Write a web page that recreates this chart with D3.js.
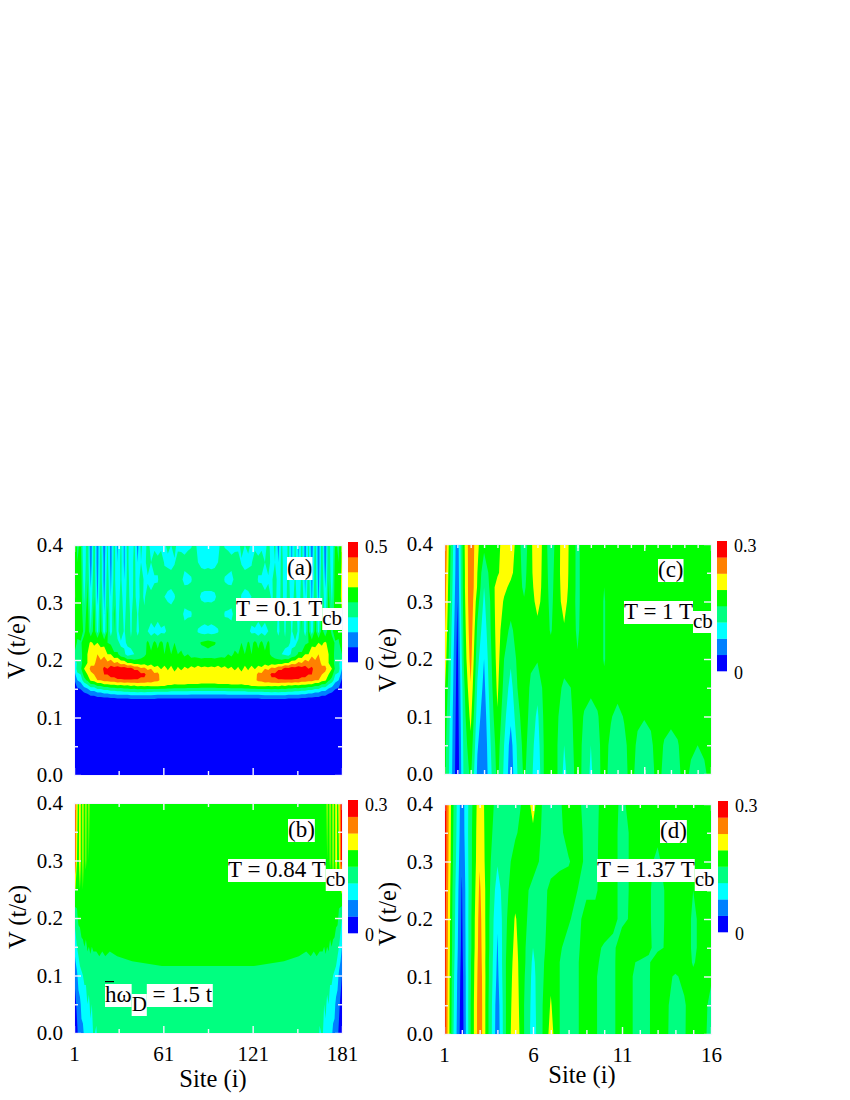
<!DOCTYPE html>
<html>
<head>
<meta charset="utf-8">
<script src="https://cdn.jsdelivr.net/npm/d3@7"></script>
<style>
  body { margin: 0; background: #fff; }
  text { font-family: "Liberation Serif", serif; fill: #000; }
</style>
</head>
<body>
<div id="chart"></div>
<script>
// ---------- Colour steps ----------
// field values are in tenths of a colour step: 8 steps make the full scale of a bar
const bandColors = ['#0000ff', '#0080ff', '#00ffff', '#00ff80', '#00ff00', '#ffff00', '#ff8000', '#ff0000'];
const stepThresholds = [0, 10, 20, 30, 40, 50, 60, 70];

// ---------- Panel (a): left half, sites 1..91, mirrored about site 91 ----------
const aVolts = [0, .125, .135, .145, .155, .165, .175, .185, .195, .21, .23, .25, .28, .31, .34, .37, .40];
const aSiteStep = 2.25;
const aRows = [
  [0,0,0,0,0,0,0,0,0,0,0,0,0,0,0,0,0,0,0,0,0,0,0,0,0,0,0,0,0,0,0,0,0,0,0,0,0,0,0,0,0],
  [0,0,0,0,1,1,1,1,2,2,2,2,2,2,2,2,2,2,2,2,2,2,2,2,2,2,2,2,2,2,2,2,2,2,2,2,2,2,2,2,2],
  [0,2,2,4,5,7,7,9,9,10,10,11,11,12,12,12,12,13,13,13,13,13,13,13,13,12,12,12,12,12,12,12,12,12,12,12,12,12,12,12,12],
  [1,6,7,11,13,18,18,22,22,25,25,27,27,29,29,30,30,31,31,32,31,32,31,31,30,30,30,30,30,29,29,29,29,29,29,28,28,28,28,28,28],
  [4,12,14,22,26,34,34,40,40,44,44,46,46,48,47,49,48,50,49,51,50,51,50,51,51,51,50,50,49,49,48,48,48,48,47,47,47,47,46,46,46],
  [8,20,24,36,42,52,54,60,60,64,64,66,66,68,68,69,69,69,69,69,68,68,66,66,63,62,58,57,56,55,55,56,56,56,56,56,56,56,56,56,56],
  [14,28,30,44,50,58,60,66,66,70,70,74,74,78,78,80,78,80,76,76,72,72,67,68,62,62,57,58,55,55,54,55,55,56,56,57,57,58,58,58,58],
  [20,34,38,50,56,62,62,66,66,72,70,74,74,76,74,76,72,74,68,68,62,63,58,60,53,56,49,56,48,54,46,52,48,52,50,53,51,54,52,53,52],
  [20,32,36,46,50,58,58,64,62,66,62,66,60,62,56,56,50,50,46,46,44,46,42,46,42,44,42,44,42,46,44,46,42,46,44,46,44,46,44,45,44],
  [40,34,36,46,50,54,56,60,56,58,50,50,42,42,34,32,26,28,30,32,36,38,42,42,44,42,44,40,42,40,44,40,42,38,40,36,38,36,36,36,37],
  [50,38,38,46,46,52,48,50,46,46,40,38,32,32,28,28,32,32,36,36,40,36,42,36,42,38,42,38,41,36,40,34,36,30,36,32,37,38,41,42,43],
  [50,44,50,36,48,30,46,26,44,24,42,24,40,26,40,28,40,28,38,26,36,30,30,26,28,25,28,28,32,32,36,35,37,35,37,35,36,29,27,26,27],
  [50,44,48,32,46,26,44,22,42,20,42,22,42,22,40,24,40,26,40,28,38,32,38,34,38,34,38,34,37,35,37,33,34,27,28,29,36,36,37,36,37],
  [54,42,46,28,42,22,40,18,40,18,38,20,38,20,36,22,36,24,34,24,34,28,36,33,37,35,33,30,27,26,29,35,37,36,37,36,37,33,28,27,27],
  [54,40,46,24,40,18,38,16,36,16,36,18,34,20,32,20,34,24,33,24,36,28,28,25,28,29,36,34,36,35,36,33,32,27,27,29,36,35,36,36,36],
  [52,40,44,22,38,14,36,14,36,16,33,16,34,20,33,18,33,22,34,20,30,25,36,30,36,33,36,29,27,26,29,35,36,33,36,35,36,30,27,26,27],
  [52,38,42,20,38,12,36,14,34,14,32,16,33,18,32,18,34,20,32,16,33,24,34,26,27,25,27,28,33,30,33,27,26,26,27,29,33,27,26,25,26]
];

// ---------- Panel (b): left half, mirrored about site 91 ----------
const bVolts = [0, .05, .1, .125, .15, .2, .25, .3, .4];
const bSites = [1,2,3,4,5,6,7,8,9,10,11,12,13,14,16,18,20,22,25,30,40,60,91];
const bCols = [
  [4,6,10,14,20,30,54,76,78],
  [5,8,14,20,26,34,50,66,68],
  [8,12,18,24,30,38,44,50,54],
  [12,16,24,28,34,42,46,48,46],
  [14,18,26,32,36,42,50,54,56],
  [18,22,28,34,38,44,46,46,45],
  [18,24,30,36,38,46,50,52,54],
  [22,26,32,36,40,44,46,46,44],
  [20,26,32,36,38,46,48,51,53],
  [24,30,34,38,41,44,46,46,45],
  [24,28,34,38,40,46,47,50,52],
  [28,32,36,38,42,44,46,46,46],
  [26,30,36,38,40,45,46,48,49],
  [31,33,37,38,41,44,46,46,46],
  [29,33,37,38,41,45,46,46,46],
  [36,37,38,39,42,45,46,46,46],
  [37,37,38,38,41,45,46,46,46],
  [37,37,38,39,42,45,46,46,46],
  [37,37,38,38,41,45,46,46,46],
  [37,37,38,39,42,45,46,46,46],
  [37,37,38,40,43,45,46,46,46],
  [37,37,38,41,43,45,46,46,46],
  [37,37,38,41,43,45,46,46,46]
];

// ---------- Panel (c): columns every 0.375 site ----------
const cVolts = [0, .05, .1, .15, .2, .25, .3, .325, .35, .4];
const cSiteStep = 0.375;
const cCols = [
  [45,46,49,54,60,65,69,70,72,75],
  [25,26,27,29,31,33,36,37,38,40],
  [2,3,4,5,6,8,10,11,12,13],
  [33,34,36,38,42,44,46,47,47,48],
  [42,47,53,59,64,67,69,69,69,69],
  [18,21,25,29,33,38,44,49,50,52],
  [11,12,14,17,20,24,28,30,33,43],
  [28,30,33,36,38,40,41,43,44,47],
  [43,45,49,52,54,55,56,55,48,44],
  [28,30,33,37,40,44,49,52,56,58],
  [14,16,22,26,32,38,44,48,52,56],
  [30,32,36,40,42,44,45,45,46,46],
  [42,44,46,47,47,45,41,38,36,33],
  [33,34,36,38,42,45,46,47,48,48],
  [22,25,28,33,41,47,53,55,56,58],
  [41,41,42,43,44,45,46,46,46,46],
  [44,46,47,47,45,39,37,36,35,33],
  [40,40,41,43,46,46,47,47,47,46],
  [27,30,34,38,44,49,53,54,55,56],
  [36,37,38,40,44,46,46,47,47,47],
  [44,45,46,46,41,38,37,37,37,37],
  [37,37,39,44,46,46,46,46,46,46],
  [28,30,33,44,46,46,47,47,47,47],
  [37,37,39,44,46,46,46,46,46,46],
  [44,45,46,43,39,39,39,40,42,44],
  [36,37,41,45,46,46,46,46,46,46],
  [30,32,36,45,46,47,47,47,47,47],
  [36,37,41,45,46,46,46,46,46,46],
  [44,45,46,47,47,47,47,47,47,47],
  [36,38,42,46,46,46,46,46,46,46],
  [31,33,41,46,46,47,47,47,47,47],
  [36,38,42,46,46,46,46,46,46,46],
  [44,45,46,47,47,47,47,47,47,47],
  [37,39,44,46,46,46,46,46,46,46],
  [33,35,44,47,47,47,47,47,47,47],
  [37,39,44,46,46,46,46,46,46,46],
  [44,45,46,47,47,47,47,47,47,47],
  [38,42,46,46,46,46,46,46,46,46],
  [33,40,46,47,47,47,47,47,47,47],
  [38,42,46,46,46,46,46,46,46,46],
  [44,45,46,46,46,46,46,46,46,46]
];

// ---------- Panel (d): columns every 0.5 site ----------
const dVolts = [0, .05, .1, .125, .15, .2, .25, .3, .35, .4];
const dSiteStep = 0.5;
const dCols = [
  [78,78,78,78,78,78,79,80,80,80],
  [32,33,34,35,36,37,38,40,41,42],
  [3,4,5,6,7,8,9,11,13,14],
  [40,40,39,39,38,38,37,37,37,36],
  [68,68,67,66,65,64,62,59,58,57],
  [40,40,41,41,42,42,43,43,43,43],
  [13,14,17,18,19,21,25,31,36,38],
  [41,41,41,41,40,39,38,37,36,36],
  [59,57,55,54,53,51,46,43,39,36],
  [40,40,41,42,42,43,43,44,43,42],
  [25,26,27,28,30,34,37,44,48,54],
  [39,39,38,38,37,36,37,38,39,40],
  [54,51,48,46,45,44,42,37,34,29],
  [40,40,40,40,41,44,44,38,37,37],
  [36,36,36,36,37,41,45,39,45,51],
  [39,39,39,39,38,37,40,45,44,42],
  [46,46,46,46,46,44,38,37,37,37],
  [41,41,41,42,42,44,38,38,38,38],
  [36,36,36,37,39,45,46,45,44,43],
  [38,38,38,38,38,42,43,43,43,43],
  [46,46,46,46,45,38,37,37,37,38],
  [41,41,41,41,46,41,41,41,41,43],
  [36,36,36,39,46,47,47,47,47,47],
  [39,39,39,39,41,41,41,42,45,46],
  [46,46,46,45,38,37,37,38,42,46],
  [41,41,42,43,41,41,41,44,46,46],
  [36,37,39,44,46,47,47,47,47,47],
  [39,39,42,46,46,46,46,46,46,46],
  [46,45,42,39,38,38,40,44,46,46],
  [43,43,44,44,43,43,44,46,46,46],
  [37,38,41,44,46,46,46,46,46,46]
];

// ---------- Axis and label lists ----------
const voltMajor = [0, .1, .2, .3, .4];
const voltMinor = [.05, .15, .25, .35];
const voltLabels = ['0.0', '0.1', '0.2', '0.3', '0.4'];
const site181Major = [1, 61, 121, 181];
const site181Minor = [31, 91, 151];
const site16Major = [1, 6, 11, 16];
const site16Minor = [2,3,4,5,7,8,9,10,12,13,14,15];
const site16MinorC = [1.75,2.5,3.25,4,4.75,5.5,6.25,7,7.75,8.5,9.25,10,10.75,11.5,12.25,13,13.75,14.5,15.25];

const svg = d3.select('#chart').append('svg').attr('width', 850).attr('height', 1100);

// flatten column lists into the row-major grid d3.contours wants
function flattenCols(cols) {
  const out = [];
  cols[0].forEach((_, j) => cols.forEach(c => out.push(c[j])));
  return out;
}

function drawField(values, sites, volts, x, y) {
  const nx = sites.length, ny = volts.length;
  // grid index -> data -> pixel; d3.contours puts samples at i + 0.5
  const ix = d3.scaleLinear().domain(sites.map((_, i) => i + .5)).range(sites.map(s => x(s))).clamp(true);
  const iy = d3.scaleLinear().domain(volts.map((_, i) => i + .5)).range(volts.map(v => y(v))).clamp(true);
  const path = d3.geoPath(d3.geoTransform({
    point(px, py) { this.stream.point(ix(px), iy(py)); }
  }));
  const layers = d3.contours().size([nx, ny]).thresholds(stepThresholds)(values);
  svg.append('g').selectAll('path').data(layers).join('path')
    .attr('d', path)
    .attr('fill', (d, i) => bandColors[i]);
}

function drawAxes(x, y, xMajor, xMinor, opts) {
  const [x0, x1] = x.range(), [y0, y1] = y.range();
  const tickCol = '#f6f4ff';
  const sides = [
    [d3.axisLeft, y, voltMajor, voltMinor, x0, null],
    [d3.axisRight, y, voltMajor, voltMinor, x1, null],
    [d3.axisBottom, x, xMajor, xMinor, null, y0],
    [d3.axisTop, x, xMajor, xMinor, null, y1]
  ];
  sides.forEach(([ax, sc, maj, min, tx, ty]) => {
    [[maj, 7], [min, 4]].forEach(([vals, len]) => {
      const g = svg.append('g')
        .attr('transform', `translate(${tx === null ? 0 : tx},${ty === null ? 0 : ty})`)
        .call(ax(sc).tickValues(vals).tickSizeInner(-len).tickSizeOuter(0).tickFormat(''));
      g.selectAll('line').attr('stroke', tickCol).attr('stroke-width', 1.4);
      g.select('.domain').attr('stroke', tickCol).attr('stroke-width', 1);
    });
  });
  // labels
  svg.append('g').attr('transform', `translate(${x0},0)`)
    .call(d3.axisLeft(y).tickValues(voltMajor).tickSize(0).tickPadding(11).tickFormat((d, i) => voltLabels[i]))
    .call(g => g.select('.domain').remove())
    .selectAll('text').style('font-size', '21px').style('font-family', '"Liberation Serif", serif');
  if (opts.xLabel) {
    svg.append('g').attr('transform', `translate(0,${y0})`)
      .call(d3.axisBottom(x).tickValues(xMajor).tickSize(0).tickPadding(13))
      .call(g => g.select('.domain').remove())
      .selectAll('text').style('font-size', '21px').style('font-family', '"Liberation Serif", serif');
    svg.append('text').attr('x', opts.xLabel[0]).attr('y', opts.xLabel[1])
      .attr('text-anchor', 'middle').style('font-size', '24.5px').text('Site (i)');
  }
  svg.append('text')
    .attr('transform', `translate(${opts.yLabel[0]},${opts.yLabel[1]}) rotate(-90)`)
    .attr('text-anchor', 'middle').style('font-size', '24.5px').text('V (t/e)');
}

function drawBar(bx, by0, by1, maxLabel) {
  const band = d3.scaleBand().domain(d3.range(8)).range([by1, by0]);
  svg.append('g').selectAll('rect').data(bandColors).join('rect')
    .attr('x', bx).attr('width', 10)
    .attr('y', (d, i) => band(i)).attr('height', band.bandwidth() + .3)
    .attr('fill', d => d);
  svg.append('text').attr('x', bx + 17).attr('y', by0 + 11).style('font-size', '18px').text(maxLabel);
  svg.append('text').attr('x', bx + 17).attr('y', by1 + 8).style('font-size', '18px').text('0');
}

// white boxed annotation: main text plus optional subscript run
function note(px, py, parts, size) {
  const g = svg.append('g');
  let cx = px;
  parts.forEach(p => {
    const t = g.append('text').attr('x', cx).attr('y', py + (p.sub ? 9 : 0))
      .style('font-size', (p.sub ? size - 2 : size) + 'px').text(p.text);
    const b = t.node().getBBox();
    g.insert('rect', 'text').attr('x', b.x).attr('y', b.y + 2).attr('width', b.width).attr('height', b.height - 2).attr('fill', '#fff');
    cx += b.width;
  });
}

// ---------- Panels ----------
const xA = d3.scaleLinear().domain([1, 181]).range([74, 342]);
const yA = d3.scaleLinear().domain([0, .4]).range([775, 545]);
const aGrid = aRows.flatMap(r => r.concat(r.slice(0, -1).reverse()));
drawField(aGrid, d3.range(81).map(i => 1 + i * aSiteStep), aVolts, xA, yA);
drawAxes(xA, yA, site181Major, site181Minor, { yLabel: [25, 647] });
drawBar(348, 542, 662, '0.5');
note(287, 575, [{ text: '(a)' }], 23);
note(236, 616, [{ text: 'T = 0.1 T' }, { text: 'cb', sub: true }], 23);

const yB = d3.scaleLinear().domain([0, .4]).range([1033, 803]);
const bSitesAll = bSites.concat(bSites.slice(0, -1).reverse().map(s => 182 - s));
const bColsAll = bCols.concat(bCols.slice(0, -1).reverse());
drawField(flattenCols(bColsAll), bSitesAll, bVolts, xA, yB);
drawAxes(xA, yB, site181Major, site181Minor, { yLabel: [26, 917], xLabel: [213, 1087] });
drawBar(348, 800, 933, '0.3');
note(288, 837, [{ text: '(b)' }], 23);
note(228, 877, [{ text: 'T = 0.84 T' }, { text: 'cb', sub: true }], 23);
note(105, 1002, [{ text: 'h\u03C9' }, { text: 'D', sub: true }, { text: '\u00A0= 1.5 t' }], 23);
// bar of the h
svg.append('rect').attr('x', 105).attr('y', 981).attr('width', 9).attr('height', 1.2).attr('fill', '#000');

const xC = d3.scaleLinear().domain([1, 16]).range([444, 711]);
const yC = d3.scaleLinear().domain([0, .4]).range([774, 544]);
drawField(flattenCols(cCols), cCols.map((_, i) => 1 + i * cSiteStep), cVolts, xC, yC);
drawAxes(xC, yC, [1, 4.75, 8.5, 12.25, 16], site16MinorC, { yLabel: [396, 660] });
drawBar(717, 541, 671, '0.3');
note(658, 577, [{ text: '(c)' }], 23);
note(624, 619, [{ text: 'T = 1 T' }, { text: 'cb', sub: true }], 23);

const yD = d3.scaleLinear().domain([0, .4]).range([1034, 804]);
drawField(flattenCols(dCols), dCols.map((_, i) => 1 + i * dSiteStep), dVolts, xC, yD);
drawAxes(xC, yD, site16Major, site16Minor, { yLabel: [396, 914], xLabel: [582, 1083] });
drawBar(718, 801, 932, '0.3');
note(660, 838, [{ text: '(d)' }], 23);
note(597, 877, [{ text: 'T = 1.37 T' }, { text: 'cb', sub: true }], 23);
</script>
</body>
</html>
